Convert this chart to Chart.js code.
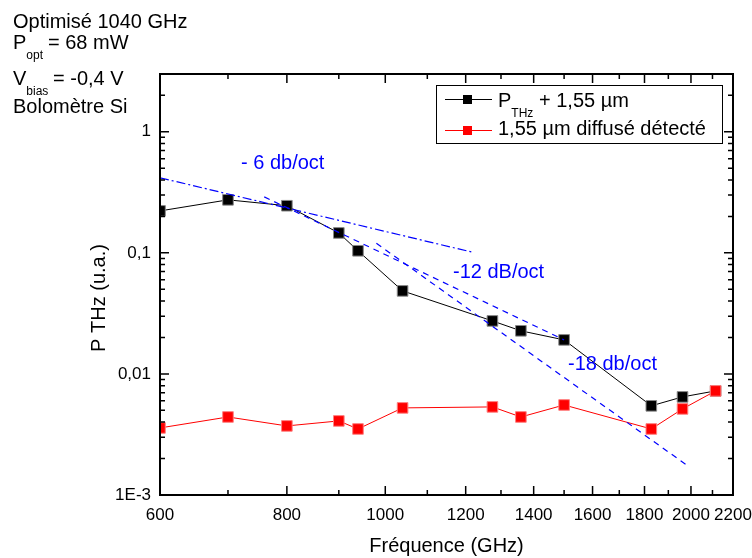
<!DOCTYPE html>
<html>
<head>
<meta charset="utf-8">
<script src="https://cdn.jsdelivr.net/npm/chart.js@4.4.0/dist/chart.umd.min.js"></script>
<style>
  html, body { margin: 0; padding: 0; background: #fff; }
  #wrap { width: 752px; height: 558px; }
</style>
</head>
<body>
<div id="wrap"><canvas id="thzChart" width="752" height="558"></canvas></div>
<script>
// measured points (GHz, u.a.)
const freqs = [600, 700, 800, 900, 940, 1040, 1275, 1360, 1500, 1828, 1962, 2115];
const pTHz = [0.222, 0.274, 0.245, 0.146, 0.104, 0.0485, 0.0274, 0.0227, 0.0191, 0.00545, 0.00646, 0.00724];
const diffuse = [0.00358, 0.00441, 0.00372, 0.00409, 0.00351, 0.00524, 0.00534, 0.00441, 0.00554, 0.00351, 0.00514, 0.00724];

// guide lines, two end points each [GHz, u.a.]
const slope6 = [[600, 0.417], [1220, 0.101]];
const slope12 = [[760, 0.290], [1500, 0.0191]];
const slope18 = [[980, 0.120], [1980, 0.00177]];

// axis ticks
const xTicks = [600, 700, 800, 900, 1000, 1100, 1200, 1300, 1400, 1500, 1600, 1700, 1800, 1900, 2000, 2100, 2200];
const xLabels = [600, 800, 1000, 1200, 1400, 1600, 1800, 2000, 2200];
const yTicks = [0.001, 0.002, 0.003, 0.004, 0.005, 0.006, 0.007, 0.008, 0.009,
                0.01, 0.02, 0.03, 0.04, 0.05, 0.06, 0.07, 0.08, 0.09,
                0.1, 0.2, 0.3, 0.4, 0.5, 0.6, 0.7, 0.8, 0.9, 1, 2, 3];
const yMajor = [0.001, 0.01, 0.1, 1];
const yLabels = ['1E-3', '0,01', '0,1', '1'];

const FONT = '"Liberation Sans", Arial, sans-serif';
const BLUE = '#0000ff';

function toXY(xs, ys) {
    return xs.map((v, i) => ({ x: v, y: ys[i] }));
}
function pairs(p) {
    return p.map(d => ({ x: d[0], y: d[1] }));
}

function textSub(ctx, x, y, main, sub, rest, restX) {
    ctx.font = '20px ' + FONT;
    ctx.fillText(main, x, y);
    const w = ctx.measureText(main).width;
    ctx.font = '12px ' + FONT;
    ctx.fillText(sub, x + w, y + 10);
    ctx.font = '20px ' + FONT;
    ctx.fillText(rest, restX, y);
}

const decorPlugin = {
    id: 'decor',
    afterDraw(chart) {
        const { ctx, chartArea: a, scales } = chart;
        const xs = scales.x, ys = scales.y;
        ctx.save();
        ctx.strokeStyle = '#000';
        ctx.lineWidth = 1.5;
        ctx.beginPath();
        xTicks.forEach(v => {
            const px = xs.getPixelForValue(v);
            const len = xLabels.includes(v) ? 9 : 5;
            ctx.moveTo(px, a.bottom); ctx.lineTo(px, a.bottom - len);
            ctx.moveTo(px, a.top); ctx.lineTo(px, a.top + len);
        });
        yTicks.forEach(v => {
            const py = ys.getPixelForValue(v);
            const len = yMajor.includes(v) ? 9 : 5;
            ctx.moveTo(a.left, py); ctx.lineTo(a.left + len, py);
            ctx.moveTo(a.right, py); ctx.lineTo(a.right - len, py);
        });
        ctx.stroke();
        ctx.lineWidth = 2;
        ctx.strokeRect(a.left, a.top, a.right - a.left, a.bottom - a.top);

        // legend
        ctx.fillStyle = '#fff';
        ctx.fillRect(436, 85, 286, 58);
        ctx.lineWidth = 1;
        ctx.strokeStyle = '#000';
        ctx.strokeRect(436.5, 85.5, 286, 58);
        [[99, '#000'], [130, '#ff0000']].forEach(r => {
            ctx.strokeStyle = r[1];
            ctx.beginPath();
            ctx.moveTo(445, r[0] + 0.5); ctx.lineTo(492, r[0] + 0.5);
            ctx.stroke();
            ctx.fillStyle = r[1];
            ctx.fillRect(463, r[0] - 4, 9, 9);
        });
        ctx.fillStyle = '#000';
        ctx.textAlign = 'left';
        ctx.textBaseline = 'alphabetic';
        textSub(ctx, 498, 107, 'P', 'THz', '+ 1,55 µm', 539);
        ctx.font = '20px ' + FONT;
        ctx.fillText('1,55 µm diffusé détecté', 498, 135);

        // top-left notes
        ctx.fillText('Optimisé 1040 GHz', 13, 28);
        textSub(ctx, 13, 49, 'P', 'opt', '= 68 mW', 48);
        textSub(ctx, 13, 85, 'V', 'bias', '= -0,4 V', 53);
        ctx.fillText('Bolomètre Si', 13, 113);

        // slope notes
        ctx.fillStyle = BLUE;
        ctx.fillText('- 6 db/oct', 241, 169);
        ctx.fillText('-12 dB/oct', 453, 278);
        ctx.fillText('-18 db/oct', 568, 370);

        // axis titles
        ctx.fillStyle = '#000';
        ctx.textAlign = 'center';
        ctx.fillText('Fréquence (GHz)', (a.left + a.right) / 2, 552);
        ctx.translate(105, 298);
        ctx.rotate(-Math.PI / 2);
        ctx.fillText('P THz (u.a.)', 0, 0);
        ctx.restore();
    }
};

const ctx = document.getElementById('thzChart').getContext('2d');
new Chart(ctx, {
    type: 'line',
    data: {
        datasets: [
            {
                label: '- 6 db/oct',
                data: pairs(slope6),
                borderColor: BLUE,
                borderWidth: 1.2,
                borderDash: [9, 3, 2, 3],
                pointRadius: 0,
                order: 0
            },
            {
                label: '-12 dB/oct',
                data: pairs(slope12),
                borderColor: BLUE,
                borderWidth: 1.2,
                borderDash: [6, 5],
                pointRadius: 0,
                order: 0
            },
            {
                label: '-18 db/oct',
                data: pairs(slope18),
                borderColor: BLUE,
                borderWidth: 1.2,
                borderDash: [6, 5],
                pointRadius: 0,
                order: 0
            },
            {
                label: '1,55 µm diffusé détecté',
                data: toXY(freqs, diffuse),
                borderColor: '#ff0000',
                backgroundColor: '#ff0000',
                borderWidth: 1,
                pointStyle: 'rect',
                pointRadius: 7.5,
                pointBorderColor: '#ff8080',
                pointBorderWidth: 1,
                clip: 0,
                order: 1
            },
            {
                label: 'P THz + 1,55 µm',
                data: toXY(freqs, pTHz),
                borderColor: '#000',
                backgroundColor: '#000',
                borderWidth: 1,
                pointStyle: 'rect',
                pointRadius: 7.5,
                pointBorderColor: '#888',
                pointBorderWidth: 1,
                clip: 0,
                order: 2
            }
        ]
    },
    options: {
        responsive: false,
        animation: false,
        layout: { padding: { top: 74, right: 19, left: 0, bottom: 0 } },
        plugins: {
            legend: { display: false },
            tooltip: { enabled: false }
        },
        scales: {
            x: {
                type: 'logarithmic',
                min: 600,
                max: 2200,
                grid: { display: false, drawTicks: false },
                border: { display: false },
                afterBuildTicks: s => { s.ticks = xTicks.map(v => ({ value: v })); },
                afterFit: s => { s.height = 63; s.paddingLeft = 0; s.paddingRight = 0; },
                ticks: {
                    autoSkip: false,
                    maxRotation: 0,
                    padding: 10,
                    color: '#000',
                    font: { family: FONT, size: 17 },
                    callback: v => xLabels.includes(v) ? String(v) : ''
                }
            },
            y: {
                type: 'logarithmic',
                min: 0.001,
                max: 3,
                grid: { display: false, drawTicks: false },
                border: { display: false },
                afterBuildTicks: s => { s.ticks = yTicks.map(v => ({ value: v })); },
                afterFit: s => { s.width = 160; s.paddingTop = 0; s.paddingBottom = 0; },
                ticks: {
                    autoSkip: false,
                    padding: 9,
                    color: '#000',
                    font: { family: FONT, size: 17 },
                    callback: v => {
                        const i = yMajor.indexOf(v);
                        return i >= 0 ? yLabels[i] : '';
                    }
                }
            }
        }
    },
    plugins: [decorPlugin]
});
</script>
</body>
</html>
